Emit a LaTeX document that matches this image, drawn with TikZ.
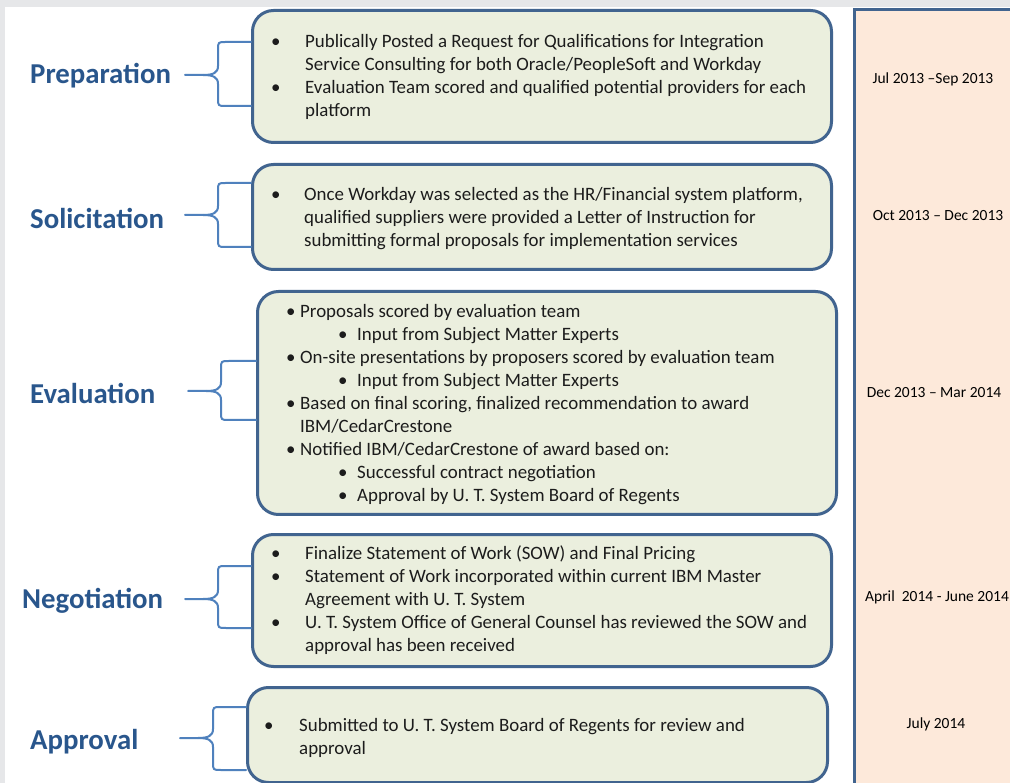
\documentclass[tikz,border=0pt]{standalone}
\usepackage{fontspec}
\setmainfont{Carlito}
\definecolor{bggray}{RGB}{230,231,233}
\definecolor{peach}{RGB}{253,233,218}
\definecolor{frame}{RGB}{65,100,143}
\definecolor{boxfill}{RGB}{235,239,222}
\definecolor{labblue}{RGB}{41,86,140}
\definecolor{brblue}{RGB}{79,129,189}
\definecolor{txt}{RGB}{28,28,28}
\newcommand\bul[1]{\makebox[#1pt][l]{\textbullet}}
\newcommand\ind[1]{\hspace*{#1pt}}
\newcommand\fs{\rule{0pt}{16pt}}
% brace: #1 tip, #2 box, #3 xv, #4 ytop, #5 ybot, #6 ymid
\newcommand\mybrace[6]{%
  \draw[br] (#2.west |- 0,#4) -- (#3+8,#4) .. controls (#3,#4) .. (#3,#4+8)
     -- (#3,#6-9) .. controls (#3,#6-2) and (#3-5,#6) .. (#3-15,#6) -- (#1);
  \draw[br] (#2.west |- 0,#5) -- (#3+8,#5) .. controls (#3,#5) .. (#3,#5-8)
     -- (#3,#6+9) .. controls (#3,#6+2) and (#3-5,#6) .. (#3-15,#6);
}
\begin{document}
\begin{tikzpicture}[x=1pt,y=-1pt,
  box/.style={draw=frame, line width=3pt, fill=boxfill, rounded corners=21pt, anchor=north west, inner sep=0pt},
  lab/.style={text=labblue, font=\fontsize{28.8}{32}\selectfont\bfseries, inner sep=0pt, anchor=west},
  body/.style={text=txt, font=\fontsize{18.9}{23}\selectfont, align=left, inner sep=0pt, anchor=north west},
  datetxt/.style={text=black, font=\fontsize{15.5}{18}\selectfont, inner sep=0pt},
  br/.style={draw=brblue, line width=2pt, line join=round, line cap=round}]
\useasboundingbox (0,0) rectangle (1010,783);
\clip (0,0) rectangle (1010,783);
\fill[bggray] (0,0) rectangle (1010,783);
\fill[white] (5,7) rectangle (1010,783);
% timeline panel
\node[draw=frame, line width=3pt, fill=peach, anchor=north west, minimum width=200pt, minimum height=800pt, inner sep=0pt] (panel) at (853,8) {};
% boxes
\node[box, minimum width=579pt, minimum height=132pt] (b1) at (251,9) {};
\node[box, minimum width=579pt, minimum height=105pt] (b2) at (251,163) {};
\node[box, minimum width=579pt, minimum height=223pt] (b3) at (256,290) {};
\node[box, minimum width=579pt, minimum height=132pt] (b4) at (251,533) {};
\node[box, minimum width=580pt, minimum height=95pt] (b5) at (246,686) {};
% labels
\node[lab] (l1) at (30,76) {Preparation};
\node[lab] (l2) at (30,218) {Solicitation};
\node[lab] (l3) at (30,393) {Evaluation};
\node[lab] (l4) at (22,601) {Negotiation};
\node[lab] (l5) at (30,742) {Approval};
% brace tips
\coordinate (t1) at (185,75);
\coordinate (t2) at (185,215);
\coordinate (t3) at (188,391);
\coordinate (t4) at (185,599);
\coordinate (t5) at (180,738);
\mybrace{t1}{b1}{218}{42}{106}{75}
\mybrace{t2}{b2}{218}{183}{247}{215}
\mybrace{t3}{b3}{221}{361}{420}{391}
\mybrace{t4}{b4}{218}{566}{628}{599}
\mybrace{t5}{b5}{213}{707}{770}{738}
% body texts (first baseline = y + 16)
\node[body] (x1) at (271,31) {\fs\bul{34}Publically Posted a Request for Qualifications for Integration\\
\ind{34}Service Consulting for both Oracle/PeopleSoft and Workday\\
\bul{34}Evaluation Team scored and qualified potential providers for each\\
\ind{34}platform};
\node[body] (x2) at (271,184) {\fs\bul{33}Once Workday was selected as the HR/Financial system platform,\\
\ind{33}qualified suppliers were provided a Letter of Instruction for\\
\ind{33}submitting formal proposals for implementation services};
\node[body] (x3) at (286,301) {\fs\bul{14}Proposals scored by evaluation team\\
\ind{52}\bul{19}Input from Subject Matter Experts\\
\bul{14}On-site presentations by proposers scored by evaluation team\\
\ind{52}\bul{19}Input from Subject Matter Experts\\
\bul{14}Based on final scoring, finalized recommendation to award\\
\ind{14}IBM/CedarCrestone\\
\bul{14}Notified IBM/CedarCrestone of award based on:\\
\ind{52}\bul{19}Successful contract negotiation\\
\ind{52}\bul{19}Approval by U. T. System Board of Regents};
\node[body] (x4) at (271,543) {\fs\bul{34}Finalize Statement of Work (SOW) and Final Pricing\\
\bul{34}Statement of Work incorporated within current IBM Master\\
\ind{34}Agreement with U. T. System\\
\bul{34}U. T. System Office of General Counsel has reviewed the SOW and\\
\ind{34}approval has been received};
\node[body] (x5) at (264,715) {\fs\bul{35}Submitted to U. T. System Board of Regents for review and\\
\ind{35}approval};
% dates
\node[datetxt] (d1) at (933,79) {Jul 2013 –Sep 2013};
\node[datetxt] (d2) at (938,216) {Oct 2013 – Dec 2013};
\node[datetxt] (d3) at (934,393) {Dec 2013 – Mar 2014};
\node[datetxt, anchor=west] (d4) at (865,597) {April\ \ 2014 - June 2014};
\node[datetxt] (d5) at (936,724) {July 2014};
\end{tikzpicture}
\end{document}
